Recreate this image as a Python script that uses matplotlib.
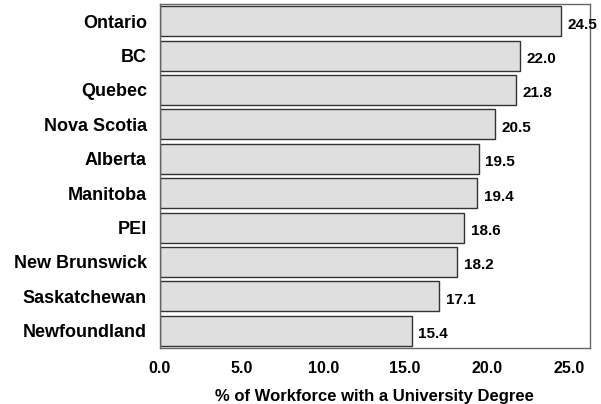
import numpy as np
import matplotlib.pyplot as plt

plt.rcParams['font.family'] = ['Liberation Sans', 'DejaVu Sans']
plt.rcParams['font.weight'] = 'bold'

# 省份与数值
provinces = ['Ontario', 'BC', 'Quebec', 'Nova Scotia', 'Alberta', 'Manitoba',
             'PEI', 'New Brunswick', 'Saskatchewan', 'Newfoundland']
values = [24.5, 22.0, 21.8, 20.5, 19.5, 19.4, 18.6, 18.2, 17.1, 15.4]
xticks = [0, 5, 10, 15, 20, 25]

fig = plt.figure(figsize=(6.01, 4.04), dpi=100)
ax = fig.add_axes([159.5 / 601, 1 - 348 / 404, (590 - 159.5) / 601, (348 - 4) / 404])

y = np.arange(len(provinces))
ax.barh(y, values, height=0.87, color='#dfdfdf', edgecolor='#333333', linewidth=1)
for yi, v in zip(y, values):
    ax.text(v + 0.4, yi + 0.1, '%.1f' % v, va='center', ha='left', fontsize=11, fontweight='bold')

ax.set_ylim(len(provinces) - 0.5, -0.5)
ax.set_xlim(0, 26.3)
ax.set_yticks(y)
ax.set_yticklabels(provinces, fontsize=13, fontweight='bold')
ax.set_xticks(xticks)
ax.set_xticklabels(['%.1f' % t for t in xticks], fontsize=11.5, fontweight='bold')
ax.tick_params(length=0)
ax.tick_params(axis='y', pad=9)
ax.tick_params(axis='x', pad=9.5)
ax.set_xlabel('% of Workforce with a University Degree', fontsize=12, fontweight='bold', labelpad=9)
for s in ax.spines.values():
    s.set_color('#666666')
    s.set_linewidth(1)

fig.savefig('out.png', dpi=100)
